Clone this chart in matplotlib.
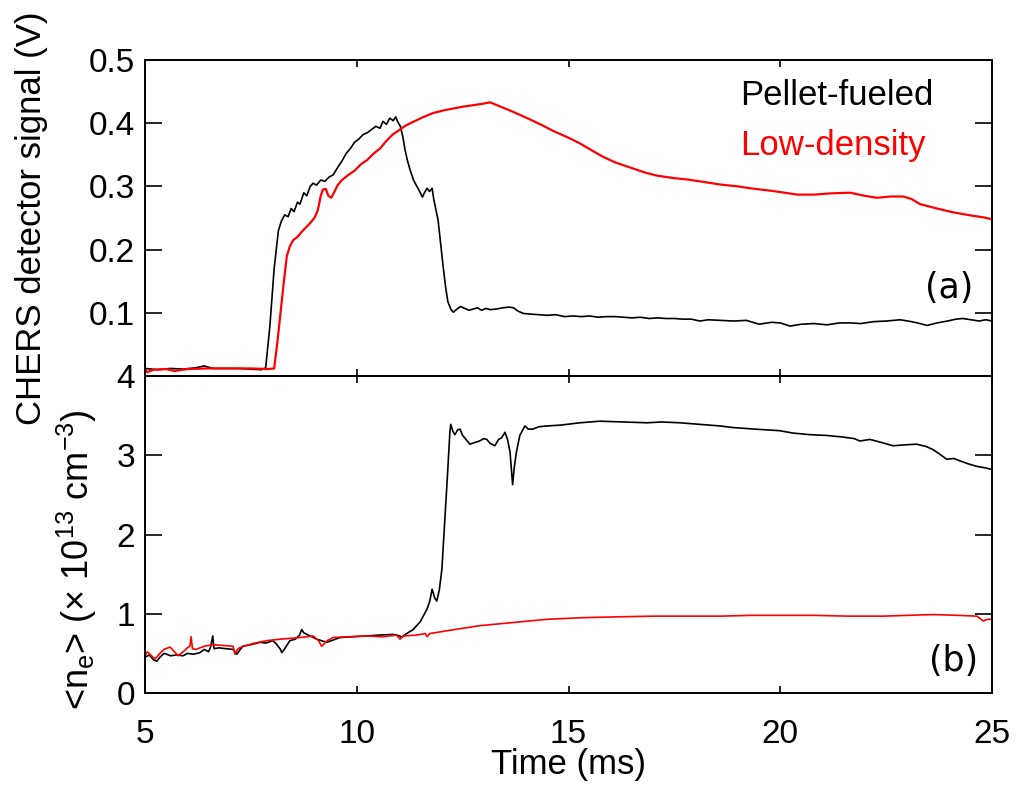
import matplotlib
matplotlib.use("Agg")
import matplotlib.pyplot as plt

plt.rcParams['font.family'] = ['Liberation Sans', 'DejaVu Sans']
plt.rcParams['mathtext.fontset'] = 'custom'
plt.rcParams['mathtext.rm'] = 'Liberation Sans'
plt.rcParams['mathtext.it'] = 'Liberation Sans'

# (a) CHERS detector signal, pellet-fueled shot
t_pel_a = [5.0, 5.3, 5.6, 5.9, 6.2, 6.4, 6.6, 6.9, 7.2, 7.5, 7.75, 7.85, 7.95, 8.05, 8.15,
           8.22, 8.3, 8.38, 8.45, 8.52, 8.6, 8.66, 8.75, 8.82, 8.9, 8.97, 9.05, 9.15, 9.25,
           9.35, 9.44, 9.55, 9.65, 9.75, 9.85, 9.95, 10.05, 10.15, 10.25, 10.35, 10.45, 10.55,
           10.62, 10.7, 10.78, 10.86, 10.92, 10.97, 11.03, 11.09, 11.14, 11.2, 11.26, 11.34,
           11.42, 11.5, 11.55, 11.6, 11.66, 11.72, 11.78, 11.82, 11.88, 11.92, 11.98, 12.04,
           12.1, 12.15, 12.22, 12.28, 12.35, 12.45, 12.55, 12.65, 12.75, 12.85, 12.95, 13.05,
           13.15, 13.3, 13.45, 13.6, 13.7, 13.8, 13.93, 14.1, 14.3, 14.5, 14.7, 14.9, 15.1,
           15.3, 15.5, 15.7, 15.9, 16.1, 16.3, 16.5, 16.7, 16.9, 17.1, 17.3, 17.5, 17.7, 17.9,
           18.1, 18.3, 18.6, 18.9, 19.2, 19.5, 19.8, 20.0, 20.23, 20.5, 20.8, 21.1, 21.4,
           21.65, 21.9, 22.2, 22.5, 22.83, 23.1, 23.3, 23.47, 23.7, 23.95, 24.15, 24.31, 24.5,
           24.7, 24.85, 25.0]
v_pel_a = [0.012, 0.010, 0.012, 0.011, 0.013, 0.016, 0.012, 0.012, 0.012, 0.011, 0.010, 0.013,
           0.08, 0.17, 0.23, 0.245, 0.255, 0.252, 0.265, 0.26, 0.275, 0.272, 0.29, 0.285, 0.3,
           0.305, 0.302, 0.31, 0.308, 0.315, 0.318, 0.33, 0.34, 0.352, 0.36, 0.37, 0.375, 0.382,
           0.385, 0.39, 0.395, 0.392, 0.403, 0.398, 0.408, 0.404, 0.41, 0.402, 0.395, 0.378,
           0.358, 0.34, 0.326, 0.31, 0.30, 0.29, 0.283, 0.29, 0.297, 0.292, 0.297, 0.279, 0.26,
           0.247, 0.21, 0.173, 0.14, 0.118, 0.106, 0.101, 0.105, 0.11, 0.107, 0.104, 0.106,
           0.108, 0.104, 0.107, 0.105, 0.106, 0.108, 0.109, 0.108, 0.103, 0.099, 0.098, 0.097,
           0.096, 0.097, 0.094, 0.095, 0.094, 0.095, 0.093, 0.094, 0.094, 0.093, 0.092, 0.093,
           0.091, 0.092, 0.091, 0.091, 0.090, 0.090, 0.087, 0.089, 0.088, 0.087, 0.088, 0.082,
           0.085, 0.084, 0.079, 0.082, 0.083, 0.081, 0.084, 0.084, 0.083, 0.086, 0.087, 0.089,
           0.086, 0.083, 0.080, 0.084, 0.087, 0.090, 0.091, 0.089, 0.087, 0.089, 0.087]

# (a) CHERS detector signal, low-density shot
t_low_a = [5.0, 5.05, 5.2, 5.5, 5.7, 6.0, 6.5, 7.0, 7.5, 7.9, 8.05, 8.12, 8.2, 8.28, 8.35,
           8.42, 8.5, 8.6, 8.7, 8.8, 8.9, 9.0, 9.08, 9.15, 9.2, 9.27, 9.33, 9.4, 9.46, 9.55,
           9.65, 9.8, 9.95, 10.1, 10.25, 10.4, 10.55, 10.7, 10.85, 11.0, 11.15, 11.33, 11.55,
           11.8, 12.1, 12.5, 12.8, 13.0, 13.15, 13.4, 13.69, 14.09, 14.4, 14.63, 15.0, 15.27,
           15.55, 15.81, 16.1, 16.45, 16.8, 17.09, 17.5, 17.8, 18.1, 18.58, 19.0, 19.29, 19.8,
           20.4, 20.8, 21.2, 21.65, 22.0, 22.28, 22.6, 22.9, 23.1, 23.3, 23.7, 24.08, 24.5,
           24.8, 25.0]
v_low_a = [0.012, 0.006, 0.010, 0.011, 0.008, 0.011, 0.012, 0.012, 0.012, 0.011, 0.012, 0.05,
           0.10, 0.15, 0.19, 0.205, 0.215, 0.22, 0.228, 0.235, 0.242, 0.25, 0.262, 0.285, 0.295,
           0.296, 0.285, 0.282, 0.29, 0.302, 0.31, 0.318, 0.325, 0.335, 0.342, 0.352, 0.36,
           0.372, 0.382, 0.389, 0.396, 0.402, 0.409, 0.416, 0.421, 0.426, 0.429, 0.431, 0.433,
           0.426, 0.418, 0.406, 0.396, 0.388, 0.377, 0.368, 0.357, 0.347, 0.338, 0.330, 0.322,
           0.317, 0.313, 0.311, 0.308, 0.303, 0.300, 0.297, 0.293, 0.287, 0.287, 0.289, 0.290,
           0.285, 0.282, 0.284, 0.284, 0.280, 0.272, 0.265, 0.259, 0.254, 0.251, 0.248]

# (b) line-averaged density, pellet-fueled shot
t_pel_b = [5.0, 5.1, 5.2, 5.28, 5.35, 5.45, 5.51, 5.6, 5.75, 5.9, 6.0, 6.15, 6.3, 6.4, 6.5,
           6.55, 6.6, 6.63, 6.75, 6.9, 7.08, 7.17, 7.25, 7.31, 7.5, 7.72, 7.85, 8.02, 8.1, 8.2,
           8.23, 8.3, 8.42, 8.55, 8.65, 8.7, 8.75, 8.9, 9.05, 9.29, 9.45, 9.6, 9.9, 10.23, 10.5,
           10.86, 11.02, 11.05, 11.15, 11.33, 11.5, 11.66, 11.72, 11.78, 11.84, 11.89, 11.95,
           12.01, 12.08, 12.15, 12.2, 12.22, 12.27, 12.32, 12.38, 12.44, 12.5, 12.58, 12.67,
           12.78, 12.9, 13.0, 13.07, 13.15, 13.26, 13.35, 13.42, 13.5, 13.56, 13.62, 13.68,
           13.72, 13.77, 13.85, 13.97, 14.05, 14.16, 14.3, 14.49, 14.8, 15.27, 15.74, 16.3,
           16.85, 17.2, 17.63, 18.1, 18.58, 18.88, 19.4, 19.99, 20.3, 20.7, 21.1, 21.48, 21.75,
           21.88, 22.12, 22.4, 22.66, 22.9, 23.22, 23.45, 23.61, 23.75, 23.93, 24.1, 24.24,
           24.45, 24.64, 24.85, 25.0]
v_pel_b = [0.45, 0.48, 0.42, 0.40, 0.45, 0.50, 0.49, 0.47, 0.48, 0.47, 0.50, 0.49, 0.51, 0.55,
           0.52, 0.58, 0.72, 0.56, 0.57, 0.56, 0.55, 0.49, 0.55, 0.59, 0.61, 0.64, 0.63, 0.66,
           0.62, 0.55, 0.51, 0.56, 0.66, 0.68, 0.73, 0.80, 0.76, 0.72, 0.68, 0.64, 0.67, 0.70,
           0.71, 0.72, 0.73, 0.74, 0.72, 0.70, 0.74, 0.80, 0.90, 1.06, 1.15, 1.31, 1.20, 1.16,
           1.30, 1.56, 2.19, 2.82, 3.30, 3.39, 3.30, 3.26, 3.32, 3.33, 3.25, 3.20, 3.14, 3.16,
           3.18, 3.21, 3.20, 3.15, 3.12, 3.20, 3.22, 3.29, 3.20, 3.04, 2.63, 2.85, 3.04, 3.25,
           3.37, 3.33, 3.33, 3.36, 3.37, 3.38, 3.41, 3.43, 3.42, 3.41, 3.42, 3.41, 3.39, 3.37,
           3.35, 3.33, 3.31, 3.28, 3.26, 3.25, 3.23, 3.21, 3.18, 3.20, 3.16, 3.12, 3.13, 3.14,
           3.11, 3.07, 3.02, 2.95, 2.96, 2.93, 2.89, 2.86, 2.84, 2.82]

# (b) line-averaged density, low-density shot
t_low_b = [5.0, 5.05, 5.1, 5.17, 5.24, 5.35, 5.45, 5.59, 5.7, 5.78, 5.9, 6.0, 6.06, 6.09,
           6.12, 6.2, 6.4, 6.6, 6.85, 7.08, 7.12, 7.2, 7.31, 7.6, 7.87, 8.2, 8.66, 8.97, 9.1,
           9.17, 9.3, 9.44, 9.8, 10.23, 10.6, 10.94, 11.02, 11.1, 11.4, 11.62, 11.66, 11.72,
           12.3, 12.91, 13.7, 14.49, 15.3, 16.05, 17.0, 18.1, 18.58, 19.3, 19.99, 20.8, 21.6,
           22.43, 23.0, 23.61, 24.2, 24.64, 24.72, 24.79, 24.9, 25.0]
v_low_b = [0.47, 0.52, 0.50, 0.46, 0.43, 0.50, 0.55, 0.58, 0.52, 0.47, 0.52, 0.57, 0.59, 0.71,
           0.56, 0.55, 0.59, 0.61, 0.60, 0.59, 0.49, 0.56, 0.59, 0.63, 0.66, 0.68, 0.70, 0.72,
           0.66, 0.59, 0.66, 0.70, 0.71, 0.72, 0.71, 0.73, 0.68, 0.72, 0.73, 0.75, 0.71, 0.75,
           0.80, 0.85, 0.89, 0.93, 0.95, 0.96, 0.97, 0.97, 0.97, 0.98, 0.98, 0.98, 0.97, 0.97,
           0.98, 0.99, 0.98, 0.97, 0.94, 0.91, 0.93, 0.93]

x_ticks = [5, 10, 15, 20, 25]
ya_ticks = [0.1, 0.2, 0.3, 0.4, 0.5]
yb_ticks = [0, 1, 2, 3, 4]

fig = plt.figure(figsize=(10.16, 7.86), dpi=100)
ax1 = fig.add_axes([0.1427, 0.5216, 0.8337, 0.4021])
ax2 = fig.add_axes([0.1427, 0.1183, 0.8337, 0.4033])

ax1.plot(t_pel_a, v_pel_a, color='black', lw=1.2)
ax1.plot(t_low_a, v_low_a, color='red', lw=1.6)
ax2.plot(t_pel_b, v_pel_b, color='black', lw=1.2)
ax2.plot(t_low_b, v_low_b, color='red', lw=1.2)

ax1.set_xlim(5, 25)
ax1.set_ylim(0, 0.5)
ax2.set_xlim(5, 25)
ax2.set_ylim(0, 4)
ax1.set_xticks(x_ticks)
ax1.set_xticklabels([])
ax2.set_xticks(x_ticks)
ax1.set_yticks(ya_ticks)
ax2.set_yticks(yb_ticks)

for ax in (ax1, ax2):
    for s in ax.spines.values():
        s.set_linewidth(1.4)
    ax.tick_params(axis='y', direction='in', length=12, width=1.2, left=True, right=True,
                   labelsize=24, pad=7)
    ax.tick_params(axis='x', direction='in', length=5, width=1.2, top=True, bottom=True,
                   labelsize=24, pad=19)

ax2.set_xlabel('Time (ms)', fontsize=25, labelpad=-2)

ax1.text(19.05, 0.429, 'Pellet-fueled', fontsize=25, color='black', va='baseline', ha='left')
ax1.text(19.05, 0.350, 'Low-density', fontsize=25, color='red', va='baseline', ha='left')
ax1.text(23.98, 0.140, '(a)', fontsize=25, family='DejaVu Sans', ha='center', va='center')
ax2.text(24.1, 0.40, '(b)', fontsize=25, family='DejaVu Sans', ha='center', va='center')

fig.text(0.031, 0.7226, 'CHERS detector signal (V)', fontsize=25, rotation=90,
         ha='center', va='center')
fig.text(0.076, 0.288, r'<n$_\mathregular{e}$> (× 10$^\mathregular{13}$ cm$^\mathregular{-3}$)',
         fontsize=26, rotation=90, ha='center', va='center')

fig.savefig('out.png', dpi=100)
